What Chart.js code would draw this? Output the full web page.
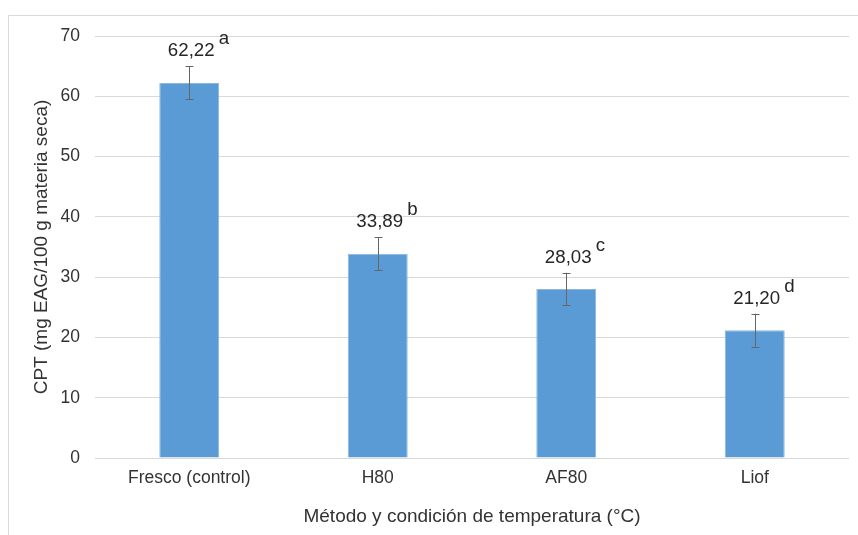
<!DOCTYPE html>
<html><head><meta charset="utf-8">
<script src="https://cdn.jsdelivr.net/npm/chart.js@4/dist/chart.umd.min.js"></script>
<style>html,body{margin:0;padding:0;background:#fff}#wrap{width:858px;height:535px;position:relative}</style>
</head><body><div id="wrap"><canvas id="c" width="858" height="535"></canvas></div>
<script>
const categories = ['Fresco (control)', 'H80', 'AF80', 'Liof'];
const values = [62.22, 33.89, 28.03, 21.20];
const errors = [2.75, 2.7, 2.7, 2.75];
const letters = ['a', 'b', 'c', 'd'];
const yMin = 0, yMax = 70, yStep = 10;
const yTitle = 'CPT (mg EAG/100 g materia seca)';
const xTitle = 'Método y condición de temperatura (°C)';

const FONT = "'Liberation Sans', Arial, sans-serif";

const framePlugin = {
  id: 'frame',
  beforeDraw(chart) {
    const ctx = chart.ctx;
    ctx.save();
    ctx.fillStyle = '#fff';
    ctx.fillRect(0, 0, chart.width, chart.height);
    ctx.strokeStyle = '#d9d9d9';
    ctx.lineWidth = 1;
    ctx.beginPath();
    ctx.moveTo(8.5, chart.height);
    ctx.lineTo(8.5, 15.5);
    ctx.lineTo(chart.width, 15.5);
    ctx.stroke();
    ctx.restore();
  }
};

const errPlugin = {
  id: 'errLabels',
  afterDatasetsDraw(chart) {
    const ctx = chart.ctx;
    const y = chart.scales.y;
    const meta = chart.getDatasetMeta(0);
    ctx.save();
    meta.data.forEach((bar, i) => {
      const x = Math.round(bar.x) + 0.5;
      const top = y.getPixelForValue(values[i] + errors[i]);
      const bot = y.getPixelForValue(values[i] - errors[i]);
      ctx.strokeStyle = '#666666';
      ctx.lineWidth = 1;
      ctx.beginPath();
      ctx.moveTo(x, top); ctx.lineTo(x, bot);
      ctx.moveTo(x - 4, Math.round(top) + 0.5); ctx.lineTo(x + 4, Math.round(top) + 0.5);
      ctx.moveTo(x - 4, Math.round(bot) + 0.5); ctx.lineTo(x + 4, Math.round(bot) + 0.5);
      ctx.stroke();
      const txt = values[i].toFixed(2).replace('.', ',');
      ctx.font = '18.7px ' + FONT;
      ctx.fillStyle = '#262626';
      ctx.textAlign = 'center';
      ctx.textBaseline = 'alphabetic';
      const base = top - 10;
      const cx = bar.x + 2;
      ctx.fillText(txt, cx, base);
      const w = ctx.measureText(txt).width;
      ctx.textAlign = 'left';
      ctx.fillText(letters[i], cx + w / 2 + 4, base - 12);
    });
    ctx.restore();
  }
};

new Chart(document.getElementById('c'), {
  type: 'bar',
  data: {
    labels: categories,
    datasets: [{
      data: values,
      backgroundColor: '#5B9BD5',
      borderColor: '#8ab6e0',
      borderWidth: 1,
      categoryPercentage: 1,
      barPercentage: 0.318
    }]
  },
  options: {
    responsive: false,
    devicePixelRatio: 1,
    animation: false,
    layout: { padding: { top: 36, right: 9, left: 0, bottom: 0 } },
    plugins: { legend: { display: false }, tooltip: { enabled: false } },
    scales: {
      x: {
        afterFit(s) { s.height = 77; },
        grid: { display: false, drawTicks: false },
        border: { display: false },
        ticks: { color: '#333333', font: { family: FONT, size: 17.5 }, padding: 10, maxRotation: 0, autoSkip: false },
        title: { display: true, text: xTitle, color: '#333333', font: { family: FONT, size: 19, lineHeight: 1.2 }, padding: { top: 0, bottom: 7 } }
      },
      y: {
        min: yMin, max: yMax,
        afterFit(s) { s.width = 95; },
        grid: { color: '#d9d9d9', lineWidth: 1, drawTicks: false },
        border: { display: false },
        ticks: { stepSize: yStep, color: '#333333', font: { family: FONT, size: 17.5 }, padding: 15 },
        title: { display: true, text: yTitle, color: '#333333', font: { family: FONT, size: 19, lineHeight: 1.2 }, padding: { top: 30, bottom: 0 } }
      }
    }
  },
  plugins: [framePlugin, errPlugin]
});
</script>
</body></html>
